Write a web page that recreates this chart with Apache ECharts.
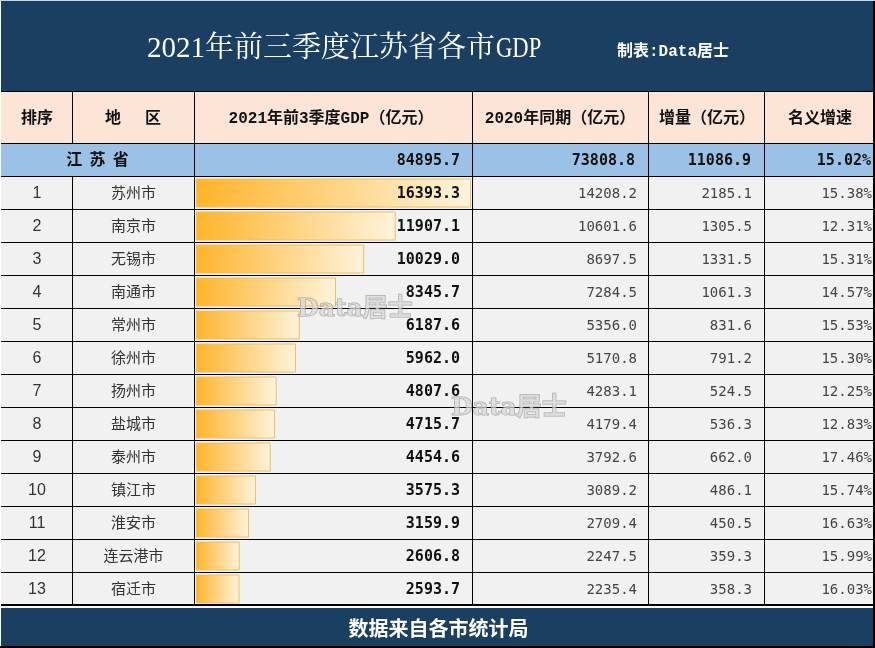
<!DOCTYPE html>
<html>
<head>
<meta charset="utf-8">
<title>2021年前三季度江苏省各市GDP</title>
<script src="https://cdn.jsdelivr.net/npm/echarts@6/dist/echarts.min.js"></script>
<style>
  html, body { margin: 0; padding: 0; background: #fff; }
  #main { width: 875px; height: 648px; }
</style>
</head>
<body>
<div id="main"></div>
<script>
var chart = echarts.init(document.getElementById("main"));

var NAVY = "#1b3f61";
var MONO = '"Liberation Mono", "Noto Sans CJK SC"';
var SANSMONO = '"DejaVu Sans Mono", "Noto Sans CJK SC"';
var CJK = '"Noto Sans CJK SC"';

// 各市数据：地区, 2021前3季度, 2020同期, 增量, 增速
var rows = [
  ["苏州市", 16393.3, 14208.2, 2185.1, "15.38%"],
  ["南京市", 11907.1, 10601.6, 1305.5, "12.31%"],
  ["无锡市", 10029.0, 8697.5, 1331.5, "15.31%"],
  ["南通市", 8345.7, 7284.5, 1061.3, "14.57%"],
  ["常州市", 6187.6, 5356.0, 831.6, "15.53%"],
  ["徐州市", 5962.0, 5170.8, 791.2, "15.30%"],
  ["扬州市", 4807.6, 4283.1, 524.5, "12.25%"],
  ["盐城市", 4715.7, 4179.4, 536.3, "12.83%"],
  ["泰州市", 4454.6, 3792.6, 662.0, "17.46%"],
  ["镇江市", 3575.3, 3089.2, 486.1, "15.74%"],
  ["淮安市", 3159.9, 2709.4, 450.5, "16.63%"],
  ["连云港市", 2606.8, 2247.5, 359.3, "15.99%"],
  ["宿迁市", 2593.7, 2235.4, 358.3, "16.03%"]
];

var ROW_TOP = 176.5;
var ROW_H = 33;
var LEFT = 1;
var RIGHT = 873;
var colX = [72.5, 194.5, 472.5, 648.5, 764.5];

var g = [];

function rect(x, y, w, h, color, z) {
  g.push({ type: "rect", z: z || 0, silent: true, shape: { x: x, y: y, width: w, height: h }, style: { fill: color } });
}
function line(x1, y1, x2, y2, w) {
  g.push({
    type: "line", z: 1, silent: true,
    shape: { x1: x1, y1: y1, x2: x2, y2: y2 },
    style: { stroke: "#000", lineWidth: w || 1 }
  });
}
function text(str, x, y, align, font, color, extra, scaleX) {
  var el = {
    type: "text", z: 10, silent: true, x: x, y: y,
    style: { text: str, align: align, verticalAlign: "middle", font: font, fill: color }
  };
  if (extra) { for (var k in extra) el.style[k] = extra[k]; }
  if (scaleX) { el.scaleX = scaleX; }
  g.push(el);
}

// 底色
rect(0, 0, 875, 648, "#fff");
rect(LEFT, 1, RIGHT - LEFT, 90, NAVY);
rect(LEFT, 92, RIGHT - LEFT, 51, "#fce4d6");
rect(LEFT, 144, RIGHT - LEFT, 32, "#9bc2e6");
rect(LEFT, 177, RIGHT - LEFT, 428, "#f1f1f1");
rect(LEFT, 608, RIGHT - LEFT, 38, NAVY);
rect(873, 0, 2, 648, "#000");
rect(0, 646, 875, 2, "#000");
rect(0, 0, 875, 1, "#c9d3dc");

// 表格线
line(LEFT, 91.5, RIGHT, 91.5);
line(LEFT, 143.5, RIGHT, 143.5);
for (var i = 0; i < rows.length; i++) {
  line(LEFT, ROW_TOP + i * ROW_H, RIGHT, ROW_TOP + i * ROW_H);
}
line(LEFT, 605, RIGHT, 605, 2);
colX.forEach(function (x, idx) {
  // 第一条竖线在江苏省这一行是合并单元格
  if (idx === 0) {
    line(x, 92, x, 143);
    line(x, 176, x, 604);
  } else {
    line(x, 92, x, 604);
  }
});

// 标题
text("2021年前三季度江苏省各市", 147, 49, "left", '29px "Liberation Serif", "Noto Serif CJK SC", ' + CJK, "#fff");
text("GDP", 496, 49, "left", '29px "Liberation Serif"', "#fff", null, 0.78);
text("制表:Data居士", 617, 52, "left", "bold 16px " + MONO, "#fff");

// 表头
var HEAD = "bold 16px " + MONO;
text("排序", 37, 118.5, "center", HEAD, "#111");
text("地", 113, 118.5, "center", HEAD, "#111");
text("区", 153, 118.5, "center", HEAD, "#111");
text("2021年前3季度GDP（亿元）", 331, 118.5, "center", HEAD, "#111");
text("2020年同期（亿元）", 560, 118.5, "center", HEAD, "#111");
text("增量（亿元）", 707, 118.5, "center", HEAD, "#111");
text("名义增速", 820, 118.5, "center", HEAD, "#111");

// 江苏省合计
var TOTAL = "bold 15px " + SANSMONO;
text("江  苏  省", 97.5, 159, "center", "bold 16px " + CJK, "#111");
text("84895.7", 460, 161, "right", TOTAL, "#111");
text("73808.8", 635, 161, "right", TOTAL, "#111");
text("11086.9", 751, 161, "right", TOTAL, "#111");
text("15.02%", 871, 161, "right", TOTAL, "#111");

// 各市
rows.forEach(function (r, i) {
  var y = ROW_TOP + i * ROW_H + 16.5;
  text(String(i + 1), 37, y + 1, "center", '16px "Liberation Sans"', "#333");
  text(r[0], 133.5, y - 1, "center", "15px " + CJK, "#333");
  text(r[1].toFixed(1), 460, y + 1, "right", "bold 15px " + SANSMONO, "#111");
  text(r[2].toFixed(1), 637, y + 1, "right", "14px " + SANSMONO, "#444");
  text(r[3].toFixed(1), 752, y + 1, "right", "14px " + SANSMONO, "#444");
  text(r[4], 872, y + 1, "right", "14px " + SANSMONO, "#444");
});

// 页脚
text("数据来自各市统计局", 438.5, 628, "center", "bold 20px " + CJK, "#fff");

// 水印
var WM = 'bold 25px "DejaVu Serif", ' + CJK;
[[297, 309], [451, 408]].forEach(function (p) {
  text("Data居士", p[0], p[1], "left", WM, "rgba(215,215,215,0.7)", {
    stroke: "rgba(140,140,140,0.7)", lineWidth: 1,
    shadowColor: "rgba(0,0,0,0.25)", shadowBlur: 2, shadowOffsetX: 1, shadowOffsetY: 1
  });
});

chart.setOption({
  animation: false,
  grid: { left: 196, width: 275, top: ROW_TOP, height: ROW_H * rows.length },
  xAxis: { type: "value", min: 0, max: 16393.3, show: false },
  yAxis: {
    type: "category", inverse: true, show: false,
    data: rows.map(function (r) { return r[0]; })
  },
  graphic: { elements: g },
  series: [
    {
      type: "bar",
      barWidth: 29,
      silent: true,
      itemStyle: {
        borderColor: "#eec05e",
        borderWidth: 1,
        color: new echarts.graphic.LinearGradient(0, 0, 1, 0, [
          { offset: 0, color: "#feb42b" },
          { offset: 1, color: "#fff3dc" }
        ])
      },
      data: rows.map(function (r) { return r[1]; })
    }
  ]
});
</script>
</body>
</html>
